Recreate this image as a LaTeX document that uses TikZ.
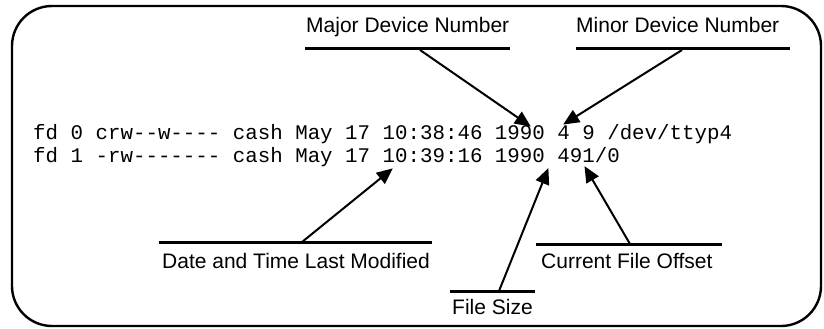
\documentclass[tikz,border=0pt]{standalone}
\usepackage{fontspec}
\setmainfont{Liberation Sans}
\newfontfamily\codefont{Liberation Mono}
\usetikzlibrary{arrows.meta}
\tikzset{
  code/.style={anchor=base west, inner sep=0pt, font=\codefont\fontsize{20.8pt}{23pt}\selectfont},
  lbl/.style={anchor=base west, inner sep=0pt, font=\fontsize{21pt}{24pt}\selectfont},
  uline/.style={line width=3pt},
  ptr/.style={line width=2pt, -{Triangle[length=16pt, width=14pt]}, shorten >=-1pt},
  frame/.style={line width=2.4pt, rounded corners=40pt}
}
\begin{document}
\begin{tikzpicture}[x=1pt, y=-1pt]
\useasboundingbox (0,0) rectangle (824,329);
\draw[frame] (12,6) rectangle (821,326);

% code lines
\node[code] (l1) at (33,139) {fd 0 crw--w---- cash May 17 10:38:46 1990 4 9 /dev/ttyp4};
\node[code] (l2) at (33,162) {fd 1 -rw------- cash May 17 10:39:16 1990 491/0};

% labels
\node[lbl] (major) at (306,33) {Major Device Number};
\node[lbl] (minor) at (576,33) {Minor Device Number};
\node[lbl] (date) at (162,268) {Date and Time Last Modified};
\node[lbl] (size) at (452,314) {File Size};
\node[lbl] (offset) at (541,268) {Current File Offset};

% underlines
\draw[uline] (305,49) -- (510,49);
\draw[uline] (576,49) -- (790,49);
\draw[uline] (159,242) -- (432,242);
\draw[uline] (450,291) -- (535,291);
\draw[uline] (536,244) -- (722,244);

% arrow starts and tips
\coordinate (majS) at (420,50);
\coordinate (majT) at (530,126);
\coordinate (minS) at (682,50);
\coordinate (minT) at (564,124);
\coordinate (datS) at (302,242);
\coordinate (datT) at (392,169);
\coordinate (sizS) at (499,291);
\coordinate (sizT) at (548,169);
\coordinate (offS) at (630,244);
\coordinate (offT) at (585,167);

\draw[ptr] (majS) -- (majT);
\draw[ptr] (minS) -- (minT);
\draw[ptr] (datS) -- (datT);
\draw[ptr] (sizS) -- (sizT);
\draw[ptr] (offS) -- (offT);
\end{tikzpicture}
\end{document}
